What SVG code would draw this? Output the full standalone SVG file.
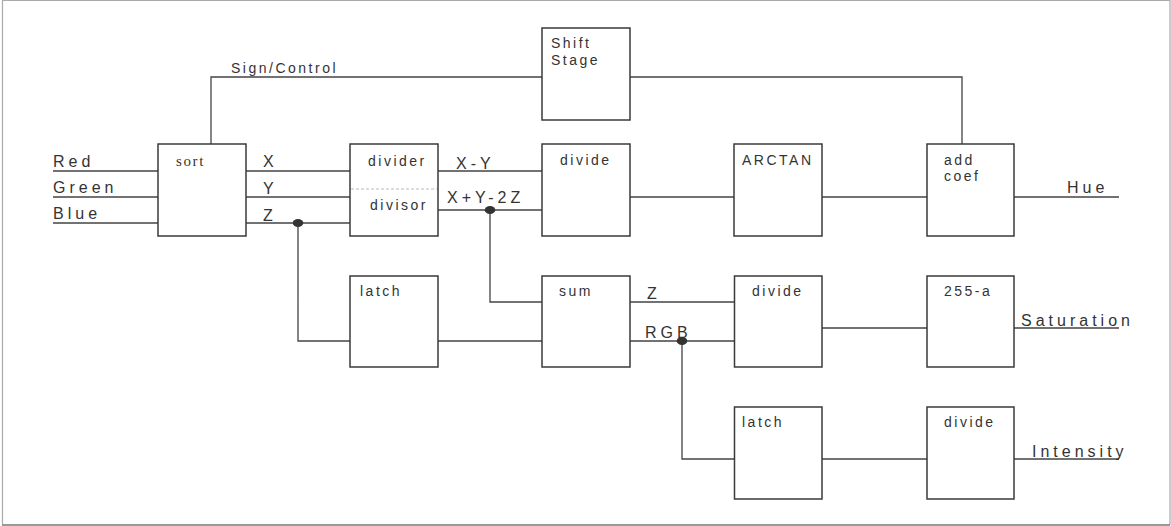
<svg xmlns="http://www.w3.org/2000/svg" width="1171" height="526" viewBox="0 0 1171 526">
<style>
.box{fill:#fff;stroke:#3a3a3a;stroke-width:1.5}
.w{fill:none;stroke:#444;stroke-width:1.3}
.t{font-family:"Liberation Sans",Arial,sans-serif;font-size:14px;fill:#333;letter-spacing:2.5px}
.s{font-family:"Liberation Serif","Times New Roman",serif;font-size:15px;fill:#333;letter-spacing:1.6px}
.l{font-family:"Liberation Sans",Arial,sans-serif;font-size:16px;fill:#333;letter-spacing:4px}
.dot{fill:#333}
</style>
<rect x="0" y="0" width="1171" height="526" fill="#fff"/>
<path d="M2.5,526 V0.5 H1170 V525" fill="none" stroke="#aaa" stroke-width="1.2"/>
<line x1="2.5" y1="525" x2="1170" y2="525" stroke="#777" stroke-width="1.4"/>
<g id="connectors">
<path class="w" d="M53,171 H158 M53,197 H158 M53,223 H158"/>
<path class="w" d="M246,171 H350 M246,197 H350 M246,223 H350"/>
<path class="w" d="M211,144 V77 H542 M630,77 H962 V144"/>
<path class="w" d="M438,171 H542 M438,210 H542"/>
<path class="w" d="M630,197 H734 M822,197 H927 M1014,197 H1119"/>
<path class="w" d="M298,223 V341 H350 M438,341 H542 M490,210 V302 H542"/>
<path class="w" d="M630,302 H734.5 M630,341 H734.5 M822,328 H927 M1014,328 H1119"/>
<path class="w" d="M682,341 V459 H734.5 M822,459 H927 M1014,459 H1119"/>
<ellipse class="dot" cx="298" cy="223" rx="5.3" ry="4"/>
<ellipse class="dot" cx="490" cy="210" rx="5.3" ry="4"/>
<ellipse class="dot" cx="682" cy="341" rx="5.3" ry="4"/>
<text class="l" x="53" y="167" letter-spacing="5.5">Red</text>
<text class="l" x="53" y="193" letter-spacing="5">Green</text>
<text class="l" x="53" y="219" letter-spacing="4.6">Blue</text>
<text class="t" x="231" y="72.5" letter-spacing="2.6">Sign/Control</text>
<text class="l" x="263" y="167">X</text>
<text class="l" x="263" y="194">Y</text>
<text class="l" x="263" y="221">Z</text>
<text class="l" x="456" y="169" letter-spacing="3.7">X-Y</text>
<text class="l" x="447" y="203" letter-spacing="4">X+Y-2Z</text>
<text class="l" x="647" y="299">Z</text>
<text class="l" x="645" y="338" letter-spacing="6.5">RGB</text>
<text class="l" x="1067" y="193" letter-spacing="5.8">Hue</text>
<text class="l" x="1021" y="326" letter-spacing="3.3">Saturation</text>
<text class="l" x="1032" y="457" letter-spacing="3.2">Intensity</text>
</g>
<g id="sort"><rect class="box" x="158" y="144" width="88" height="92"/><text class="s" x="176" y="165.5">sort</text></g>
<g id="shift"><rect class="box" x="542" y="28" width="88" height="92"/><text class="t" x="551" y="48" letter-spacing="2.2">Shift</text><text class="t" x="551" y="65" letter-spacing="2.9">Stage</text></g>
<g id="divider"><rect class="box" x="350" y="144" width="88" height="92"/><line x1="351" y1="189" x2="437" y2="189" stroke="#bbb" stroke-width="1" stroke-dasharray="3,2"/><text class="t" x="368" y="165.5" letter-spacing="2.4">divider</text><text class="t" x="370" y="210" letter-spacing="2.4">divisor</text></g>
<g id="divide1"><rect class="box" x="542" y="144" width="88" height="92"/><text class="t" x="560" y="165" letter-spacing="2.3">divide</text></g>
<g id="arctan"><rect class="box" x="734" y="144" width="88" height="92"/><text class="t" x="742" y="165" letter-spacing="3.8">ARCTAN</text></g>
<g id="addcoef"><rect class="box" x="927" y="144" width="87" height="92"/><text class="t" x="944" y="165" letter-spacing="2.6">add</text><text class="t" x="944" y="181" letter-spacing="2.6">coef</text></g>
<g id="latch1"><rect class="box" x="350" y="276" width="88" height="91"/><text class="t" x="360" y="296" letter-spacing="2.5">latch</text></g>
<g id="sum"><rect class="box" x="542" y="276" width="88" height="91"/><text class="t" x="559" y="296" letter-spacing="2.5">sum</text></g>
<g id="divide2"><rect class="box" x="734.5" y="276" width="87.5" height="91"/><text class="t" x="752" y="296" letter-spacing="2.3">divide</text></g>
<g id="sub255"><rect class="box" x="927" y="276" width="87" height="91"/><text class="t" x="944" y="296" letter-spacing="2.8">255-a</text></g>
<g id="latch2"><rect class="box" x="734.5" y="407" width="87.5" height="92"/><text class="t" x="742" y="427" letter-spacing="2.5">latch</text></g>
<g id="divide3"><rect class="box" x="927" y="407" width="87" height="92"/><text class="t" x="944" y="427" letter-spacing="2.3">divide</text></g>
</svg>
